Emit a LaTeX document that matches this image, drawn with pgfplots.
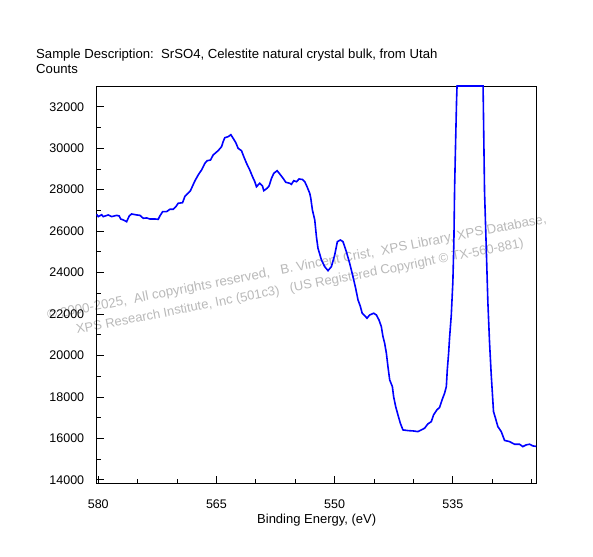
\documentclass[border=0pt]{standalone}
\usepackage{fontspec}
\setmainfont{Liberation Sans}
\usepackage{pgfplots}
\pgfplotsset{compat=1.18}
\usepackage{pgfplotstable}
\definecolor{wm}{RGB}{185,185,185}
\pgfplotstableread{
x y
580.20 26812
580.00 26700
579.57 26790
579.37 26700
578.73 26780
578.30 26700
577.67 26760
577.34 26730
577.16 26585
576.83 26540
576.40 26455
576.07 26730
575.77 26827
575.13 26780
574.71 26760
574.29 26620
573.86 26634
573.44 26585
572.81 26585
572.39 26570
572.18 26730
571.83 26938
571.33 26938
570.91 27053
570.49 27053
570.15 27179
569.86 27343
569.30 27371
569.01 27670
568.72 27791
568.32 27936
568.03 28177
567.74 28418
567.32 28707
566.89 28948
566.47 29271
566.18 29397
565.75 29430
565.42 29672
564.79 29879
564.35 30072
564.15 30313
563.94 30506
563.52 30554
563.17 30650
562.88 30477
562.54 30265
562.25 29995
561.82 29879
561.53 29590
561.18 29271
560.77 28948
560.42 28625
560.13 28384
559.92 28143
559.50 28307
559.16 28177
558.99 27950
558.57 28066
558.32 28177
558.01 28548
557.72 28789
557.30 28914
556.96 28755
556.54 28548
556.20 28355
555.69 28307
555.48 28258
555.19 28432
554.84 28384
554.51 28514
554.08 28490
553.79 28384
553.50 28143
553.16 27825
553.03 27598
552.82 27019
552.52 26537
552.31 25732
552.11 25173
551.67 24608
551.26 24285
550.84 24093
550.41 24285
549.99 24850
549.65 25491
549.27 25573
548.94 25491
548.51 25009
548.09 24449
547.67 23803
547.33 23244
547.03 22680
546.75 22390
546.50 22038
546.18 21923
545.89 21797
545.55 21956
545.04 22038
544.70 21956
544.37 21715
544.07 21392
543.86 20910
543.65 20592
543.43 20109
543.23 19463
543.01 18822
542.67 18499
542.51 18017
542.25 17535
541.96 17134
541.66 16734
541.33 16411
540.69 16377
540.06 16363
539.43 16329
539.00 16411
538.58 16493
538.16 16700
537.73 16811
537.44 17134
537.02 17375
536.68 17496
536.33 17891
536.04 18181
535.82 18499
535.70 19304
535.53 20109
535.41 20847
535.19 21956
534.99 23562
534.86 25491
534.77 28066
534.65 30154
534.52 32324
534.46 33000
531.16 33000
531.13 32300
530.97 27902
530.75 25173
530.55 22598
530.34 20669
530.12 19063
529.83 17293
529.58 16975
529.28 16570
528.85 16329
528.43 15905
527.80 15847
527.17 15721
526.53 15721
526.11 15606
525.68 15688
525.26 15721
524.85 15640
524.41 15615
}\spectrum
\begin{document}
\begin{tikzpicture}
\path[use as bounding box] (0bp,0bp) rectangle (593bp,557bp);
\node[anchor=base west,inner sep=0pt,font=\fontsize{13.15bp}{15bp}\selectfont] at (36bp,498bp) {Sample Description:\ \ SrSO4, Celestite natural crystal bulk, from Utah};
\node[anchor=base west,inner sep=0pt,font=\fontsize{13.15bp}{15bp}\selectfont] at (36bp,483bp) {Counts};
\node[anchor=base west,inner sep=0pt,rotate=11,text=wm,font=\fontsize{13.3bp}{15bp}\selectfont] at (48bp,237bp) {\char"00A9\ 2000-2025,\ \ All copyrights reserved,\ \ \ B. Vincent Crist,\ \ XPS Library,\ XPS Database,};
\node[anchor=base west,inner sep=0pt,rotate=11,text=wm,font=\fontsize{13bp}{15bp}\selectfont] at (77bp,223bp) {XPS Research Institute, Inc (501c3)\ \ \ (US Registered Copyright \char"00A9\ TX-560-881)};
\begin{axis}[
  at={(96.7bp,74bp)}, anchor=south west,
  scale only axis, width=440bp, height=397bp,
  x dir=reverse,
  xmin=524.35, xmax=580.2,
  ymin=13850, ymax=33000,
  clip=false,
  axis line style={line width=0.8bp},
  xtick={535,550,565,580},
  minor xtick={525,530,540,545,555,560,570,575},
  ytick={14000,16000,...,32000},
  minor ytick={15000,17000,...,31000},
  tick align=inside,
  xtick pos=bottom, ytick pos=left,
  major tick length=7bp, minor tick length=4bp,
  tick style={line width=0.8bp, black},
  scaled y ticks=false,
  /pgf/number format/1000 sep={},
  /pgf/number format/assume math mode=true,
  tick label style={font=\fontsize{12.5bp}{15bp}\selectfont},
  x tick label style={anchor=base, yshift=-25bp},
  y tick label style={anchor=east, xshift=-9bp},
  xlabel={Binding Energy, (eV)},
  xlabel style={at={(axis description cs:0.5,0)}, anchor=base, yshift=-40bp, font=\fontsize{13bp}{15bp}\selectfont},
]
\addplot[color={rgb,255:red,0;green,0;blue,255}, line width=1.6bp, no marks] table[x=x,y=y] {\spectrum};
\end{axis}
\end{tikzpicture}
\end{document}
